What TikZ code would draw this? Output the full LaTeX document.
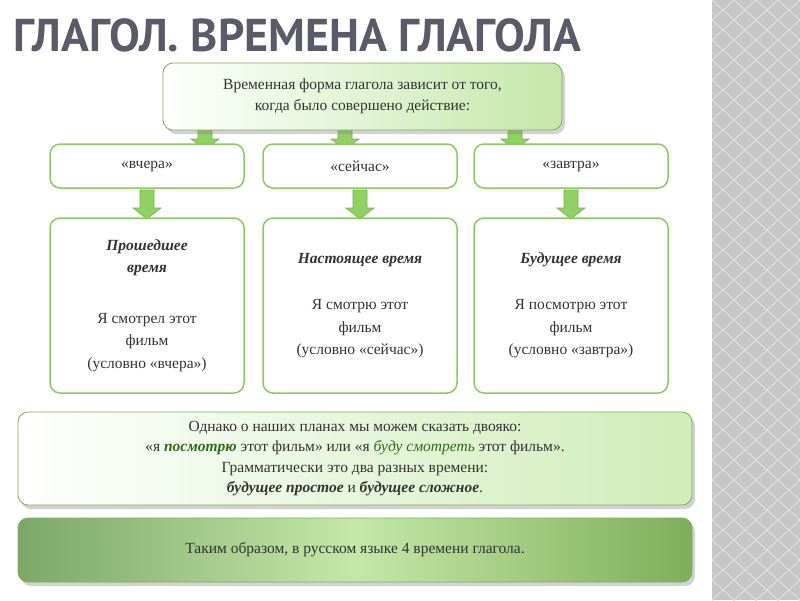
\documentclass[tikz,border=0pt]{standalone}
\usepackage{fontspec}
\setmainfont{Liberation Serif}
\newfontfamily\titlefont{PT Sans}
\usetikzlibrary{shadows}
\definecolor{gborder}{HTML}{8CCB5E}
\definecolor{garrow}{HTML}{8FD163}
\definecolor{gdark}{HTML}{7FAE5A}
\definecolor{glight}{HTML}{C4E8A8}
\definecolor{tgray}{HTML}{5A5A68}
\definecolor{txt}{HTML}{333333}
\definecolor{emgreen}{HTML}{2E6B1A}
\tikzset{
 x=1pt,y=-1pt,
 wbox/.style={draw=gborder,line width=1.5pt,rounded corners=10pt,fill=white,text=txt,align=center,font=\fontsize{15.5}{20}\selectfont,inner sep=0pt},
 bigbox/.style={wbox,font=\fontsize{15.5}{22.5}\selectfont,minimum width=194pt,minimum height=175pt},
 gbox/.style={draw=gdark,line width=0.8pt,rounded corners=10pt,text=txt,align=center,font=\fontsize{15.5}{20.5}\selectfont,inner sep=0pt,drop shadow={opacity=0.35,shadow xshift=3pt,shadow yshift=-4pt}},
 barrow/.style={fill=garrow,draw=gdark,line width=0.6pt}
}
\newcommand{\darrow}[3]{% x, ytop, ybottom
 \draw[barrow] (#1-7,#2) -- (#1+7,#2) -- (#1+7,#3-11) -- (#1+14,#3-11) -- (#1,#3) -- (#1-14,#3-11) -- (#1-7,#3-11) -- cycle;}
\begin{document}
\begin{tikzpicture}
\useasboundingbox (0,0) rectangle (800,600);
\fill[white] (0,0) rectangle (800,600);
% right strip
\fill[gray!45] (712,0) rectangle (800,600);
\foreach \i in {0,...,30}{
 \foreach \j in {0,1,2,3}{
  \draw[white!80!gray,line width=0.8pt] (712+\j*22,\i*20) -- (723+\j*22,\i*20+10) -- (712+\j*22,\i*20+20);
  \draw[white!80!gray,line width=0.8pt] (734+\j*22,\i*20) -- (723+\j*22,\i*20+10) -- (734+\j*22,\i*20+20);
 }}
\fill[white] (0,0) rectangle (712,600);
% title
\node[anchor=west,text=tgray,font=\titlefont\bfseries\fontsize{46}{48}\selectfont,inner sep=0pt] (title) at (13,35) {ГЛАГОЛ. ВРЕМЕНА ГЛАГОЛА};
% arrows top
\darrow{205}{128}{150}
\darrow{345}{128}{150}
\darrow{515}{128}{150}
% top box
\node[gbox,minimum width=399pt,minimum height=67pt,left color=white,right color=glight] (top) at (362.5,96.5) {Временная форма глагола зависит от того,\\когда было совершено действие:};
% row boxes
\node[wbox,minimum width=194pt,minimum height=44pt] (r1) at (147,166) {«вчера»};
\node[wbox,minimum width=194pt,minimum height=44pt] (r2) at (360,166) {«сейчас»};
\node[wbox,minimum width=194pt,minimum height=44pt] (r3) at (571,166) {«завтра»};
\darrow{147}{190}{219}
\darrow{360}{190}{219}
\darrow{571}{190}{219}
% big boxes
\node[bigbox] (b1) at (147,305.5) {\textbf{\textit{Прошедшее}}\\\textbf{\textit{время}}\\[28pt]Я смотрел этот\\фильм\\(условно «вчера»)};
\node[bigbox] (b2) at (360,305.5) {\textbf{\textit{Настоящее время}}\\[24pt]Я смотрю этот\\фильм\\(условно «сейчас»)};
\node[bigbox] (b3) at (571,305.5) {\textbf{\textit{Будущее время}}\\[24pt]Я посмотрю этот\\фильм\\(условно «завтра»)};
% explanation box
\node[gbox,minimum width=674pt,minimum height=93pt,left color=white,right color=glight!80] (expl) at (355,458.5) {Однако о наших планах мы можем сказать двояко:\\«я \textcolor{emgreen}{\textbf{\textit{посмотрю}}} этот фильм» или «я \textcolor{emgreen}{\textit{буду смотреть}} этот фильм».\\Грамматически это два разных времени:\\\textbf{\textit{будущее простое}} и \textbf{\textit{будущее сложное}}.};
% conclusion box
\node[gbox,minimum width=674pt,minimum height=64pt,left color=gdark!90!green!80!black!80,right color=gdark,middle color=glight] (concl) at (355,550) {Таким образом, в русском языке 4 времени глагола.};
\end{tikzpicture}
\end{document}
